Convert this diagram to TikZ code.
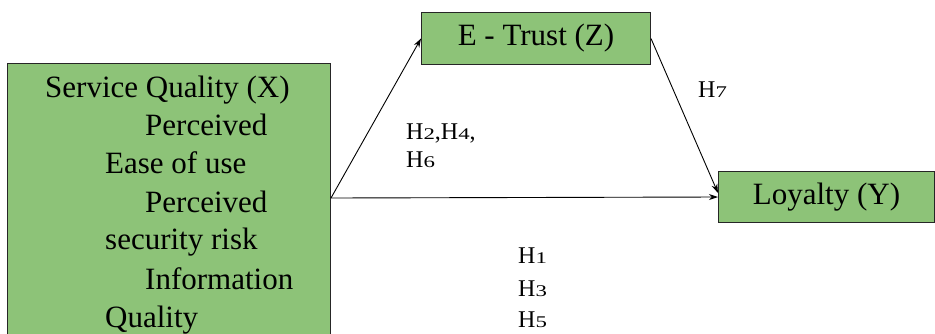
\documentclass[tikz,border=0pt]{standalone}
\usepackage{fontspec}
\usepackage{graphicx}
\setmainfont{Liberation Serif}
\usetikzlibrary{positioning, arrows.meta}

\definecolor{boxgreen}{RGB}{141,195,120}
\newcommand{\hnum}[1]{H\scalebox{0.95}[0.68]{#1}}

\begin{document}
\begin{tikzpicture}[
  x=1pt, y=-1pt,
  var/.style={draw=black!85, line width=1pt, fill=boxgreen, inner sep=0pt},
  big/.style={font=\fontsize{31}{38}\selectfont, inner sep=0pt, anchor=base west},
  hyp/.style={font=\fontsize{24}{24}\selectfont, inner sep=0pt, anchor=base west},
  link/.style={line width=0.9pt, -{Stealth[length=9pt, width=6pt]}}
]
  \clip (0,0) rectangle (935,333);
  \useasboundingbox (0,0) rectangle (935,333);

  % Boxes
  \node[var, anchor=north west, minimum width=323pt, minimum height=300pt] (sq) at (7,63) {};
  \node[var, anchor=north west, minimum width=229pt, minimum height=52pt, font=\fontsize{31}{38}\selectfont] (tr) at (421,12) {E - Trust (Z)};
  \node[var, anchor=north west, minimum width=216pt, minimum height=51pt, font=\fontsize{31}{38}\selectfont] (ly) at (718,171) {Loyalty (Y)};

  % Text of service quality
  \foreach \i/\x/\y/\t in {1/45/97/Service Quality (X), 2/145/135/Perceived, 3/105/173/Ease of use,
                          4/145/212/Perceived, 5/105/249/security risk, 6/145/289/Information, 7/105/327/Quality} {
    \node[big] (sq\i) at (\x,\y) {\t};
  }

  % Paths
  \coordinate (src) at ([yshift=-135pt]sq.north east);
  \draw[link] (src) -- (tr.west);
  \draw[link] (src) -- (ly.west);
  \draw[link] (tr.east) -- ([yshift=4pt]ly.west);

  % Hypotheses
  \node[hyp] (h7) at (698,97) {\hnum{7}};
  \node[hyp] (h246) at (406,139) {\hnum{2},\hnum{4},};
  \node[hyp] (h6) at (406,167) {\hnum{6}};
  \node[hyp] (h1) at (518,263) {\hnum{1}};
  \node[hyp] (h3) at (518,296) {\hnum{3}};
  \node[hyp] (h5) at (518,327) {\hnum{5}};
\end{tikzpicture}
\end{document}
